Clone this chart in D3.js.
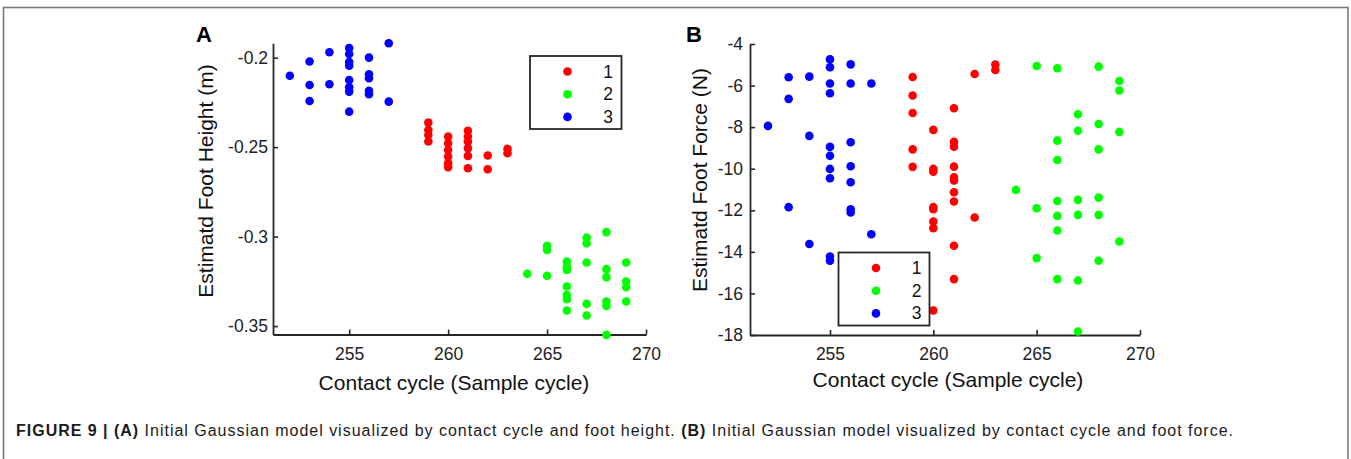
<!DOCTYPE html>
<html>
<head>
<meta charset="utf-8">
<script src="https://cdn.jsdelivr.net/npm/d3@7"></script>
<style>
  body { margin: 0; background: #fff; }
  svg { display: block; font-family: "Liberation Sans", Arial, sans-serif; }
</style>
</head>
<body>
<div id="chart"></div>
<script>
// cluster labels and colours
const clusterNames = ["1", "2", "3"];
const clusterColors = ["#ff0000", "#00ff00", "#0000ff"];
const cycleTicks = [255, 260, 265, 270];
const heightTicks = [-0.35, -0.3, -0.25, -0.2];
const forceTicks = [-18, -16, -14, -12, -10, -8, -6, -4];

// panel A: contact cycle vs foot height (m)
const heightCluster1 = [
  [259, -0.2363], [259, -0.2404], [259, -0.2432], [259, -0.2469],
  [260, -0.2441], [260, -0.2478], [260, -0.2516], [260, -0.2553], [260, -0.2590], [260, -0.2612],
  [261, -0.2409], [261, -0.2441], [261, -0.2469], [261, -0.2506], [261, -0.2549], [261, -0.2618],
  [262, -0.2547], [262, -0.2624],
  [263, -0.2510], [263, -0.2534]
];
const heightCluster2 = [
  [264, -0.3208],
  [265, -0.3052], [265, -0.3074], [265, -0.3219],
  [266, -0.3140], [266, -0.3168], [266, -0.3186], [266, -0.3279], [266, -0.3326], [266, -0.3350], [266, -0.3413],
  [267, -0.3006], [267, -0.3037], [267, -0.3145], [267, -0.3376], [267, -0.3441],
  [268, -0.2975], [268, -0.3182], [268, -0.3227], [268, -0.3363], [268, -0.3387], [268, -0.3549],
  [269, -0.3145], [269, -0.3251], [269, -0.3283], [269, -0.3363]
];
const heightCluster3 = [
  [252, -0.2101],
  [253, -0.2022], [253, -0.2153], [253, -0.2242],
  [254, -0.1970], [254, -0.2149],
  [255, -0.1947], [255, -0.1980], [255, -0.2025], [255, -0.2045], [255, -0.2125], [255, -0.2165], [255, -0.2190], [255, -0.2302],
  [256, -0.2000], [256, -0.2093], [256, -0.2115], [256, -0.2186], [256, -0.2204],
  [257, -0.1920], [257, -0.2246]
];

// panel B: contact cycle vs foot force (N)
const forceCluster1 = [
  [259, -5.59], [259, -6.48], [259, -7.32], [259, -9.07], [259, -9.91],
  [260, -8.13], [260, -10.01], [260, -10.14], [260, -11.85], [260, -11.95], [260, -12.54], [260, -12.86], [260, -16.82],
  [261, -7.09], [261, -8.71], [261, -8.94], [261, -9.90], [261, -10.41], [261, -10.57], [261, -11.13], [261, -11.58], [261, -13.71], [261, -15.31],
  [262, -5.44], [262, -12.35],
  [263, -4.99], [263, -5.25]
];
const forceCluster2 = [
  [264, -11.02],
  [265, -5.06], [265, -11.90], [265, -14.30],
  [266, -5.17], [266, -8.65], [266, -9.58], [266, -11.55], [266, -12.27], [266, -12.97], [266, -15.31],
  [267, -7.38], [267, -8.17], [267, -11.50], [267, -12.22], [267, -15.38], [267, -17.83],
  [268, -5.09], [268, -7.85], [268, -9.07], [268, -11.39], [268, -12.22], [268, -14.43],
  [269, -5.78], [269, -6.24], [269, -8.23], [269, -13.50]
];
const forceCluster3 = [
  [252, -7.94],
  [253, -5.60], [253, -6.64], [253, -11.85],
  [254, -5.57], [254, -8.42], [254, -13.62],
  [255, -4.74], [255, -5.12], [255, -5.90], [255, -6.37], [255, -8.95], [255, -9.38], [255, -10.01], [255, -10.46], [255, -14.22], [255, -14.42],
  [256, -4.98], [256, -5.90], [256, -8.73], [256, -9.88], [256, -10.65], [256, -11.95], [256, -12.11],
  [257, -5.90], [257, -13.15]
];

const W = 1351, H = 459;
const axisColor = "#262626";

const svg = d3.select("#chart").append("svg")
  .attr("width", W)
  .attr("height", H);

// figure frame
svg.append("rect")
  .attr("x", 3.5).attr("y", 7.5)
  .attr("width", 1344.5).attr("height", 480)
  .attr("fill", "none")
  .attr("stroke", "#7a7a7a")
  .attr("stroke-width", 1.6);

function drawPanel(cfg) {
  const x = d3.scaleLinear().domain(cfg.xDomain).range(cfg.xRange);
  const y = d3.scaleLinear().domain(cfg.yDomain).range(cfg.yRange);
  const g = svg.append("g");

  //x axis, ticks pointing inward
  const xAxis = g.append("g")
    .attr("transform", `translate(0,${cfg.yRange[0]})`)
    .call(d3.axisBottom(x).tickValues(cycleTicks).tickSizeInner(-5).tickSizeOuter(0).tickPadding(13));

  //y axis
  const yAxis = g.append("g")
    .attr("transform", `translate(${cfg.xRange[0]},0)`)
    .call(d3.axisLeft(y).tickValues(cfg.yTicks).tickFormat(d => String(d))
      .tickSizeInner(-5).tickSizeOuter(0).tickPadding(cfg.yPad));

  [xAxis, yAxis].forEach(a => {
    a.select(".domain").attr("stroke", axisColor).attr("stroke-width", 1.8);
    a.selectAll(".tick line").attr("stroke", axisColor).attr("stroke-width", 1.6);
    a.selectAll(".tick text").attr("fill", "#222").style("font-size", "17.5px");
  });

  // points, one group per cluster
  cfg.clusters.forEach((pts, i) => {
    g.append("g")
      .selectAll("circle")
      .data(pts)
      .join("circle")
        .attr("cx", d => x(d[0]))
        .attr("cy", d => y(d[1]))
        .attr("r", 4.3)
        .attr("fill", clusterColors[i]);
  });

  //axis labels
  g.append("text")
    .attr("x", cfg.xLabelX)
    .attr("y", cfg.xLabelY)
    .attr("text-anchor", "middle")
    .style("font-size", "21px")
    .attr("fill", "#111")
    .text("Contact cycle (Sample cycle)");

  g.append("text")
    .attr("transform", `translate(${cfg.yLabelX},${cfg.yLabelY}) rotate(-90)`)
    .attr("text-anchor", "middle")
    .style("font-size", "21px")
    .attr("fill", "#111")
    .text(cfg.yLabel);

  // panel letter
  g.append("text")
    .attr("x", cfg.letterX).attr("y", 42)
    .style("font-size", "22px")
    .style("font-weight", "bold")
    .text(cfg.letter);

  // legend box
  const lg = cfg.legend;
  g.append("rect")
    .attr("x", lg.x).attr("y", lg.y)
    .attr("width", lg.w).attr("height", lg.h)
    .attr("fill", "#fff")
    .attr("stroke", axisColor)
    .attr("stroke-width", 1.8);

  clusterNames.forEach((name, i) => {
    const cy = lg.y + 15.5 + i * 22.7;
    g.append("circle")
      .attr("cx", lg.x + 37.5).attr("cy", cy)
      .attr("r", 4.3)
      .attr("fill", clusterColors[i]);
    g.append("text")
      .attr("x", lg.x + 78).attr("y", cy + 6)
      .attr("text-anchor", "middle")
      .style("font-size", "17.5px")
      .attr("fill", "#111")
      .text(name);
  });
}

drawPanel({
  letter: "A", letterX: 196,
  xDomain: [251.15, 270], xRange: [273, 646],
  yDomain: [-0.3547, -0.192], yRange: [334.5, 43.3],
  yTicks: heightTicks, yPad: 5,
  clusters: [heightCluster1, heightCluster2, heightCluster3],
  xLabelX: 454, xLabelY: 390,
  yLabelX: 213, yLabelY: 181,
  yLabel: "Estimatd Foot Height (m)",
  legend: { x: 530, y: 56, w: 91.5, h: 73 }
});

drawPanel({
  letter: "B", letterX: 686,
  xDomain: [251.13, 270], xRange: [750, 1140],
  yDomain: [-18, -4], yRange: [335, 44],
  yTicks: forceTicks, yPad: 7,
  clusters: [forceCluster1, forceCluster2, forceCluster3],
  xLabelX: 948, xLabelY: 387,
  yLabelX: 707, yLabelY: 180,
  yLabel: "Estimatd Foot Force (N)",
  legend: { x: 838.5, y: 252.5, w: 91, h: 73 }
});

// caption, stretched to the width of the printed one
const caption = svg.append("text")
  .attr("x", 16).attr("y", 436)
  .attr("textLength", 1217)
  .attr("lengthAdjust", "spacing")
  .style("font-size", "16px")
  .attr("fill", "#1a1a1a");
caption.append("tspan").style("font-weight", "bold").text("FIGURE 9 | (A)");
caption.append("tspan").text(" Initial Gaussian model visualized by contact cycle and foot height. ");
caption.append("tspan").style("font-weight", "bold").text("(B)");
caption.append("tspan").text(" Initial Gaussian model visualized by contact cycle and foot force.");
</script>
</body>
</html>
